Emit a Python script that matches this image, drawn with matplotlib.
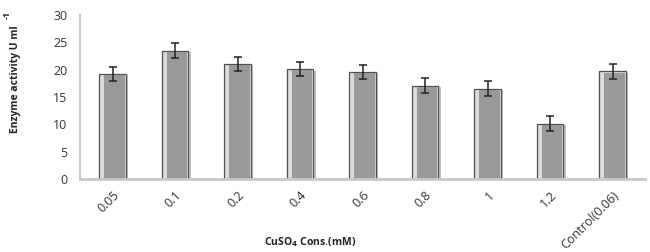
import matplotlib
matplotlib.use("Agg")
import matplotlib.pyplot as plt
import matplotlib.patheffects as pe
from matplotlib.transforms import ScaledTranslation

categories = ["0.05", "0.1", "0.2", "0.4", "0.6", "0.8", "1", "1.2", "Control(0.06)"]
activity = [19.2, 23.5, 21.1, 20.1, 19.6, 17.1, 16.5, 10.1, 19.7]
errors = [1.3, 1.3, 1.3, 1.3, 1.3, 1.35, 1.4, 1.4, 1.35]
yticks = [0, 5, 10, 15, 20, 25, 30]

plt.rcParams['font.family'] = ['Open Sans', 'DejaVu Sans']

fig = plt.figure(figsize=(6.5, 2.52), dpi=100)
ax = fig.add_axes([80/650, 1-179/252, 565/650, 164/252])

x = list(range(len(categories)))
outer = ax.bar(x, activity, width=0.43, color='#dcdcdc', edgecolor='#505050',
               linewidth=0.9, zorder=2)
for b in outer:
    b.set_path_effects([pe.SimplePatchShadow(offset=(1.5, -1.0), shadow_rgbFace='#777777', alpha=0.45), pe.Normal()])
x_inner = [xi + 0.03 for xi in x]
ax.bar(x_inner, [a - 0.25 for a in activity], width=0.33, color='#999999',
       edgecolor='none', linewidth=0, zorder=2.5)
ax.errorbar(x, activity, yerr=errors, fmt='none', ecolor='#222222', elinewidth=1.1,
            capsize=3, capthick=1.1, zorder=3)

ax.set_xlim(-0.52, len(categories) - 0.48)
ax.set_ylim(0, 30)
ax.set_yticks(yticks)
ax.set_yticklabels([str(v) for v in yticks], fontsize=9, color='#333333')
ax.set_xticks(x)
ax.set_xticklabels(categories, rotation=45, ha='right', rotation_mode='anchor',
                   fontsize=9, color='#333333')
offset = ScaledTranslation(4/100, 0, fig.dpi_scale_trans)
for lab in ax.get_xticklabels():
    lab.set_transform(lab.get_transform() + offset)
ax.tick_params(axis='both', length=0)
ax.tick_params(axis='x', pad=7)
ax.tick_params(axis='y', pad=9)
for s in ['top', 'right']:
    ax.spines[s].set_visible(False)
ax.spines['left'].set_color('#c8c8c8')
ax.spines['left'].set_linewidth(1.5)
ax.spines['bottom'].set_color('#c8c8c8')
ax.spines['bottom'].set_linewidth(2)

fig.text(16/650, 1-79/252, "Enzyme activity U ml", rotation=90, ha='center', va='center',
         fontsize=7.5, fontweight='bold', color='#222222')
fig.text(7/650, 1-15/252, "-1", rotation=90, ha='center', va='center',
         fontsize=6.5, fontweight='bold', color='#222222')
fig.text(310/650, 1-242/252, r"CuSO$_\mathbf{4}$ Cons.(mM)", ha='center', va='center',
         fontsize=7.5, fontweight='bold', color='#222222')

fig.savefig("out.png", dpi=100)
